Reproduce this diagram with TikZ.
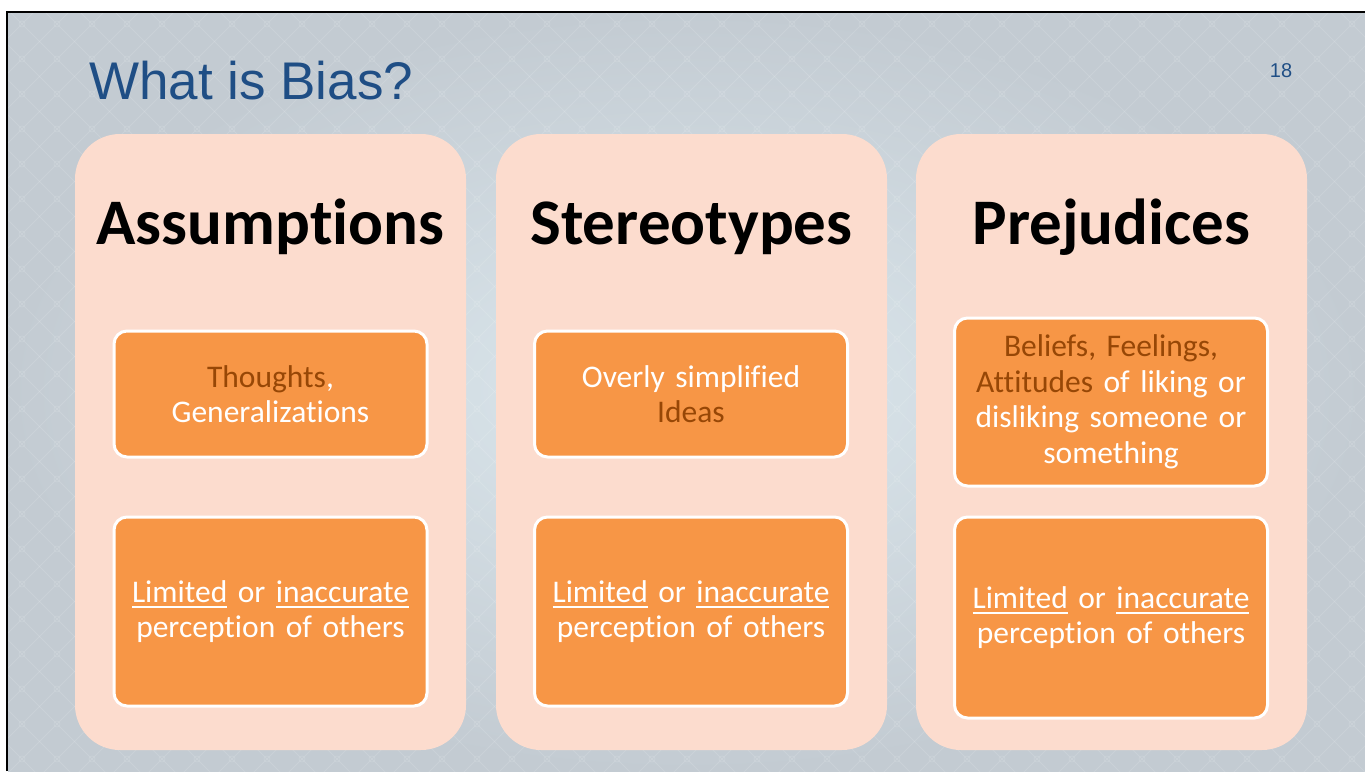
\documentclass[tikz,border=0pt]{standalone}
\usepackage{fontspec}
\setmainfont{Carlito}[Ligatures={NoCommon}]
\newfontfamily\titlefont{Liberation Sans}
\definecolor{slidemid}{HTML}{DCE8EE}
\definecolor{slideedge}{HTML}{C3CBD2}
\definecolor{titleblue}{HTML}{1F4E85}
\definecolor{panelpeach}{HTML}{FCDCCE}
\definecolor{boxorange}{HTML}{F79646}
\definecolor{darkbrown}{HTML}{974706}
\newcommand\tbrown[1]{\textcolor{darkbrown}{#1}}
\newlength\ulwidth
\newcommand\uln[1]{\settowidth\ulwidth{#1}\rlap{\rule[-6pt]{\ulwidth}{2pt}}#1}
\tikzset{
  panel/.style={rectangle, rounded corners=45pt, fill=panelpeach, minimum width=391pt, inner sep=0pt},
  heading/.style={anchor=base, font=\bfseries\fontsize{65}{74}\selectfont, text=black},
  itembox/.style={rectangle, rounded corners=13pt, fill=boxorange, draw=white, line width=3pt,
    minimum width=313pt, text width=300pt, align=center, inner sep=0pt, text=white,
    font=\fontsize{31.5}{35.5}\selectfont},
}
\begin{document}
\begin{tikzpicture}[x=1pt,y=-1pt]
\useasboundingbox (0,0) rectangle (1365,771);
\fill[white] (0,0) rectangle (1365,771);
% slide background with a soft lattice
\shade[inner color=slidemid, outer color=slideedge] (8,13) rectangle (1365,771);
\begin{scope}
  \clip (8,13) rectangle (1365,771);
  \foreach \k in {0,...,62} {
    \draw[white, opacity=0.13, line width=0.8pt] ({11+35*\k},0) -- ++(-800,800);
  }
  \foreach \k in {-24,...,40} {
    \draw[white, opacity=0.13, line width=0.8pt] ({-2+35*\k},0) -- ++(800,800);
  }
  \foreach \i in {0,...,39} {
    \foreach \j in {0,...,22} {
      \draw[white, opacity=0.13, line width=0.7pt] ({22+35*\i},{24+35*\j}) circle (3pt);
    }
  }
\end{scope}
\draw[black, line width=2.5pt] (7,771) -- (7,12) -- (1365,12);

% title and page number
\node[anchor=base west, inner sep=0pt, text=titleblue, font=\titlefont\fontsize{53}{62}\selectfont] (title) at (89,99) {What is Bias?};
\node[anchor=base, inner sep=0pt, text=titleblue, font=\titlefont\fontsize{20}{24}\selectfont] (pagenum) at (1281,77) {18};

% three columns
\node[panel, minimum height=616pt] (p1) at (270.5,442) {};
\node[panel, minimum height=616pt] (p2) at (691.5,442) {};
\node[panel, minimum height=616pt] (p3) at (1111.5,442) {};

\node[heading] (h1) at (270.5,244) {Assumptions};
\node[heading] (h2) at (691.5,244) {Stereotypes};
\node[heading] (h3) at (1111.5,244) {Prejudices};

\node[itembox, minimum height=126pt] (a1) at (270.5,394) {\tbrown{Thoughts},\\Generalizations};
\node[itembox, minimum height=189pt] (b1) at (270.5,611.5) {\uln{Limited} or \uln{inaccurate}\\perception of others};

\node[itembox, minimum height=126pt] (a2) at (691,394) {Overly simplified\\\tbrown{Ideas}};
\node[itembox, minimum height=189pt] (b2) at (691,611.5) {\uln{Limited} or \uln{inaccurate}\\perception of others};

\node[itembox, minimum height=168pt] (a3) at (1111,402) {\tbrown{Beliefs, Feelings,}\\\tbrown{Attitudes} of liking or\\disliking someone or\\something};
\node[itembox, minimum height=201pt] (b3) at (1111,617.5) {\uln{Limited} or \uln{inaccurate}\\perception of others};
\end{tikzpicture}
\end{document}
